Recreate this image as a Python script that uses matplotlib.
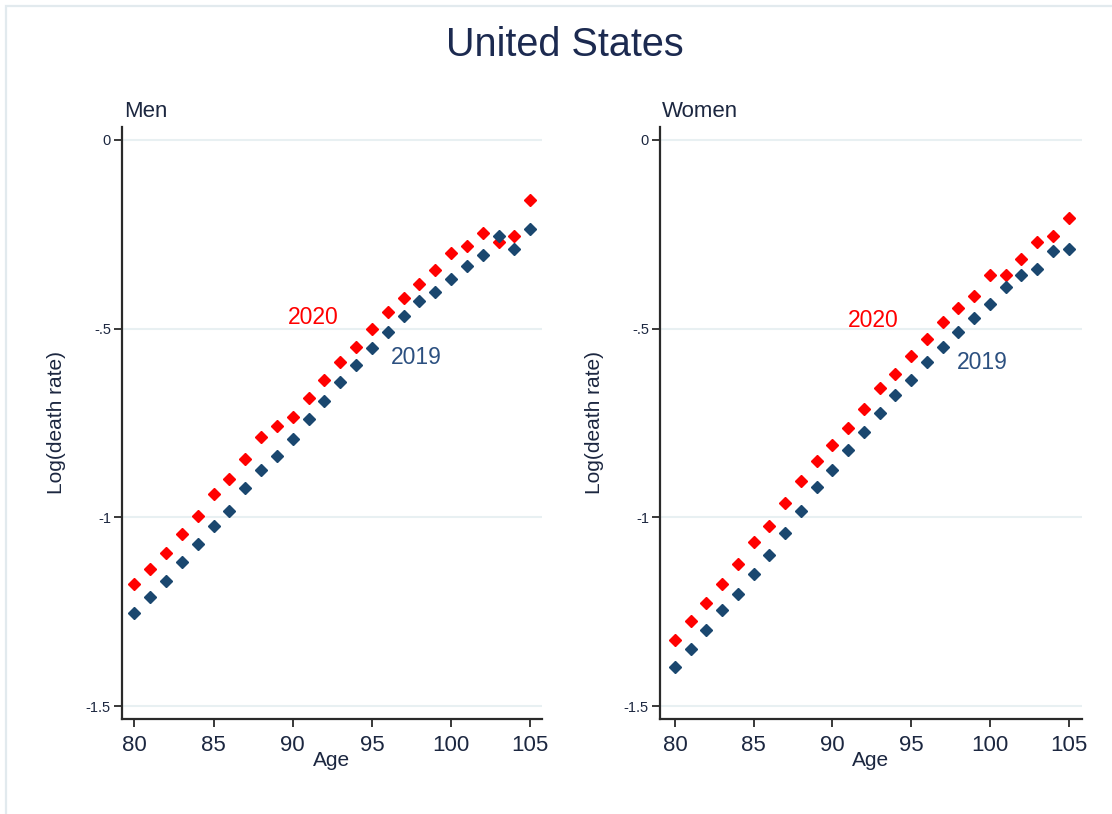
import matplotlib
matplotlib.use("Agg")
import matplotlib.pyplot as plt
from matplotlib.patches import Rectangle
import numpy as np

plt.rcParams['font.family'] = ['Liberation Sans', 'DejaVu Sans']

ages = list(range(80, 106))

men_2020 = [-1.176, -1.137, -1.093, -1.044, -0.996, -0.938, -0.899, -0.846, -0.788,
            -0.758, -0.733, -0.685, -0.637, -0.588, -0.548, -0.500, -0.456, -0.418,
            -0.382, -0.345, -0.301, -0.281, -0.247, -0.270, -0.255, -0.160]
men_2019 = [-1.253, -1.211, -1.167, -1.119, -1.070, -1.022, -0.982, -0.923, -0.874,
            -0.836, -0.793, -0.740, -0.691, -0.642, -0.597, -0.552, -0.510, -0.466,
            -0.426, -0.403, -0.369, -0.335, -0.306, -0.255, -0.290, -0.237]
women_2020 = [-1.323, -1.274, -1.225, -1.177, -1.124, -1.066, -1.022, -0.963, -0.904,
              -0.851, -0.807, -0.762, -0.714, -0.658, -0.620, -0.572, -0.528, -0.484,
              -0.446, -0.413, -0.358, -0.358, -0.315, -0.271, -0.254, -0.208]
women_2019 = [-1.396, -1.347, -1.299, -1.246, -1.202, -1.149, -1.100, -1.041, -0.982,
              -0.919, -0.875, -0.822, -0.773, -0.724, -0.676, -0.637, -0.588, -0.548,
              -0.510, -0.471, -0.436, -0.391, -0.358, -0.343, -0.294, -0.290]

yticks = [0, -0.5, -1, -1.5]
ytick_labels = ['0', '-.5', '-1', '-1.5']
xticks = [80, 85, 90, 95, 100, 105]

red = '#ff0000'
navy = '#1a476f'
txt = '#1c2740'
grid = '#e8f0f2'

fig = plt.figure(figsize=(11.12, 8.14), dpi=100)
# light frame along the left and top edges
fig.patches.append(Rectangle((6 / 1112, -0.1), 2, 1.1 - 6 / 814, transform=fig.transFigure,
                             fill=False, edgecolor='#e2eaee', linewidth=1.6))

fig.text(0.508, 1 - 45 / 814, 'United States', ha='center', va='center',
         fontsize=28.5, color='#1c2a50')

panels = [
    ('Men', men_2020, men_2019, [122, 542], (79.22, 105.74),
     (91.3, -0.472), (97.8, -0.578)),
    ('Women', women_2020, women_2019, [660, 1082], (79.05, 105.85),
     (92.6, -0.480), (99.5, -0.591)),
]

for name, y20, y19, (x0, x1), xlim, pos20, pos19 in panels:
    ax = fig.add_axes([x0 / 1112, 1 - 719.3 / 814, (x1 - x0) / 1112, (719.3 - 126.7) / 814])
    ax.plot(ages, y20, linestyle='none', marker='D', ms=6.2, color=red, zorder=3)
    ax.plot(ages, y19, linestyle='none', marker='D', ms=6.2, color=navy, zorder=3)
    ax.set_xlim(*xlim)
    ax.set_ylim(-1.534, 0.034)
    ax.set_yticks(yticks)
    ax.set_yticklabels(ytick_labels)
    ax.set_xticks(xticks)
    for y in yticks:
        ax.axhline(y, color=grid, linewidth=1.5, zorder=1)
    for s in ['top', 'right']:
        ax.spines[s].set_visible(False)
    for s in ['left', 'bottom']:
        ax.spines[s].set_linewidth(1.6)
        ax.spines[s].set_color('#2a2a2a')
    ax.tick_params(axis='y', length=6, width=1.3, color='#2a2a2a', labelsize=10.5,
                   labelcolor=txt, pad=2)
    ax.tick_params(axis='x', length=6, width=1.3, color='#2a2a2a', labelsize=16,
                   labelcolor=txt, pad=5)
    ax.set_xlabel('Age', fontsize=15, color=txt, labelpad=-3)
    ax.set_ylabel('Log(death rate)', fontsize=15, color=txt, labelpad=14)
    ax.text(0.005, 1.008, name, transform=ax.transAxes, ha='left', va='bottom',
            fontsize=16, color=txt)
    ax.text(pos20[0], pos20[1], '2020', color=red, fontsize=16.5, ha='center', va='center')
    ax.text(pos19[0], pos19[1], '2019', color='#2c5080', fontsize=16.5, ha='center', va='center')

fig.savefig('out.png', dpi=100, facecolor='white')
